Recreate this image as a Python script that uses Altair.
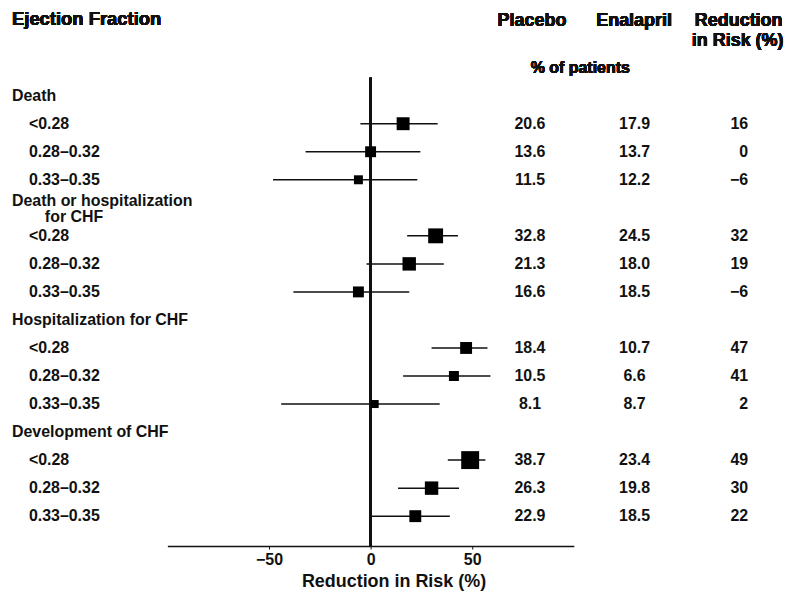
import altair as alt
import pandas as pd

# ---- data ----
groups = [
    ["Death"],
    ["Death or hospitalization", "for CHF"],
    ["Hospitalization for CHF"],
    ["Development of CHF"],
]
ef_levels = ["<0.28", "0.28–0.32", "0.33–0.35"]

placebo = [20.6, 13.6, 11.5, 32.8, 21.3, 16.6, 18.4, 10.5, 8.1, 38.7, 26.3, 22.9]
enalapril = [17.9, 13.7, 12.2, 24.5, 18.0, 18.5, 10.7, 6.6, 8.7, 23.4, 19.8, 18.5]
reduction = [16, 0, -6, 32, 19, -6, 47, 41, 2, 49, 30, 22]
ci_low = [-5, -32, -48, 18, -2, -38, 30, 16, -44, 38, 13.5, 0]
ci_high = [33, 24.5, 23, 43, 36, 19, 57.5, 59, 34, 56.5, 43.5, 39]
weight = [52, 37, 25, 69, 56, 37, 44, 31, 20, 100, 56, 44]

FONT = "Liberation Sans"

def fmt_int(v):
    return ("−" + str(abs(v))) if v < 0 else str(v)

rows = []
labels = []
k = 0
for gi, glines in enumerate(groups):
    grow = gi * 4
    if len(glines) == 1:
        labels.append(dict(lx=4, ly=grow, txt=glines[0]))
    else:
        labels.append(dict(lx=4, ly=grow - 0.24, txt=glines[0]))
        labels.append(dict(lx=37, ly=grow + 0.33, txt=glines[1]))
    for li, lev in enumerate(ef_levels):
        r = grow + li + 1
        labels.append(dict(lx=21, ly=r, txt=lev))
        rows.append(dict(
            row=r,
            placebo=placebo[k], placebo_s=f"{placebo[k]:.1f}",
            enalapril=enalapril[k], enalapril_s=f"{enalapril[k]:.1f}",
            reduction=reduction[k], reduction_s=fmt_int(reduction[k]),
            lo=ci_low[k], hi=ci_high[k], w=weight[k],
        ))
        k += 1

df = pd.DataFrame(rows)
lab = pd.DataFrame(labels)

yscale = alt.Scale(domain=[0, 15], range=[86.9, 509], nice=False, zero=False)
xscale = alt.Scale(domain=[-100, 100], range=[160, 568], nice=False)

base = alt.Chart(df)

xaxis = alt.Axis(
    values=[-50, 0, 50], grid=False, domain=True, domainColor="#111",
    domainWidth=1.5, ticks=True, tickSize=3, tickColor="#111",
    labelFont=FONT, labelFontSize=16, labelFontWeight="bold", labelColor="#111",
    labelPadding=3, title="Reduction in Risk (%)", titleFont=FONT,
    titleFontSize=18, titleFontWeight="bold", titleColor="#111",
    titleX=387, titleY=36, titleBaseline="middle",
)

ci = base.mark_rule(strokeWidth=1.5, color="#111").encode(
    x=alt.X("lo:Q", scale=xscale, axis=xaxis),
    x2="hi:Q",
    y=alt.Y("row:Q", scale=yscale, axis=None),
)

zero = alt.Chart(df).mark_rule(strokeWidth=2, color="#111").encode(
    x=alt.datum(0), y=alt.value(69), y2=alt.value(539)
)

squares = base.mark_square(filled=True, opacity=1, color="#000").encode(
    x="reduction:Q",
    y="row:Q",
    size=alt.Size("w:Q", scale=alt.Scale(domain=[0, 100], range=[0, 324]), legend=None),
)

num_style = dict(font=FONT, fontSize=16, fontWeight="bold", color="#111", baseline="middle")
t_plac = base.mark_text(align="center", **num_style).encode(
    x=alt.value(524), y="row:Q", text="placebo_s:N")
t_enal = base.mark_text(align="center", **num_style).encode(
    x=alt.value(629), y="row:Q", text="enalapril_s:N")
t_red = base.mark_text(align="right", **num_style).encode(
    x=alt.value(743), y="row:Q", text="reduction_s:N")

t_lab = alt.Chart(lab).mark_text(align="left", **num_style).encode(
    x=alt.X("lx:Q", scale=None), y=alt.Y("ly:Q"), text="txt:N")

hdr_style = dict(font=FONT, fontSize=18, fontWeight="bold", color="#111", baseline="middle")
h1 = alt.Chart(df).mark_text(text="Ejection Fraction", align="left",
                             **dict(hdr_style, fontSize=18.5)).encode(
    x=alt.value(4), y=alt.value(10))
h2 = alt.Chart(df).mark_text(text="Placebo", align="center", **hdr_style).encode(
    x=alt.value(526), y=alt.value(12))
h3 = alt.Chart(df).mark_text(text="Enalapril", align="center", **hdr_style).encode(
    x=alt.value(628.5), y=alt.value(12))
h4 = alt.Chart(df).mark_text(text="Reduction", align="center", **hdr_style).encode(
    x=alt.value(733.5), y=alt.value(12))
h5 = alt.Chart(df).mark_text(text="in Risk (%)", align="center", **hdr_style).encode(
    x=alt.value(732.5), y=alt.value(32))
h6 = alt.Chart(df).mark_text(text="% of patients", align="center",
                             **dict(hdr_style, fontSize=16)).encode(
    x=alt.value(574.5), y=alt.value(59))

chart = alt.layer(
    zero, ci, squares, t_plac, t_enal, t_red, t_lab, h1, h2, h3, h4, h5, h6
).properties(
    width=776, height=539, padding=0, background="white"
).configure_view(strokeWidth=0)

chart.save("out.html", embed_options={"renderer": "svg", "actions": False})
